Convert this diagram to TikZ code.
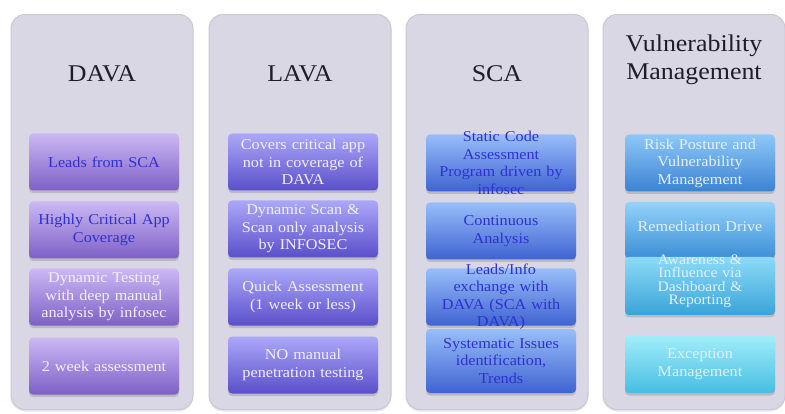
\documentclass[tikz,border=0pt]{standalone}
\usepackage{fontspec}
\setmainfont{Liberation Serif}[FakeStretch=1.08]
\usetikzlibrary{shadows}
\definecolor{panelfill}{HTML}{DAD7E5}
\definecolor{panelborder}{HTML}{C9C6D6}
\definecolor{titlecol}{HTML}{1E1E2A}
\definecolor{dtop}{HTML}{CBB8F4}
\definecolor{dbot}{HTML}{7D60C6}
\definecolor{ltop}{HTML}{ABA8F8}
\definecolor{lbot}{HTML}{5A4FCA}
\definecolor{stop}{HTML}{98BEF9}
\definecolor{sbot}{HTML}{3F63D2}
\definecolor{vtopa}{HTML}{8DC8F8}
\definecolor{vbota}{HTML}{3B82D2}
\definecolor{vtopb}{HTML}{94D3FA}
\definecolor{vbotb}{HTML}{3C8ED6}
\definecolor{vtopc}{HTML}{8CDAF8}
\definecolor{vbotc}{HTML}{3AA4D8}
\definecolor{vtopd}{HTML}{A2EEFA}
\definecolor{vbotd}{HTML}{47BDE2}
\definecolor{bluetxt}{HTML}{3030D2}
\definecolor{whtxt}{HTML}{F2EEFF}
\definecolor{vmtxt}{HTML}{E2F1FF}
\tikzset{
  panel/.style={draw=panelborder, line width=1pt, fill=panelfill, rounded corners=14pt,
    minimum width=182pt, minimum height=395pt, inner sep=0pt,
    drop shadow={opacity=0.18, shadow xshift=0pt, shadow yshift=-2pt}},
  ttl/.style={font=\fontsize{24}{28.5}\selectfont, text=titlecol, align=center, inner sep=0pt},
  item/.style={rounded corners=4pt, minimum width=150pt, minimum height=57pt, inner sep=0pt,
    drop shadow={opacity=0.35, shadow xshift=0pt, shadow yshift=-2.5pt}},
  dbox/.style={item, top color=dtop, bottom color=dbot},
  lbox/.style={item, top color=ltop, bottom color=lbot},
  sbox/.style={item, top color=stop, bottom color=sbot},
  itxt/.style={font=\fontsize{15}{17.5}\selectfont, align=center, text width=150pt, inner sep=0pt},
}
\begin{document}
\begin{tikzpicture}[x=1pt,y=-1pt]
\useasboundingbox (0,0) rectangle (785,414);
% panels
\node[panel] (p1) at (102,212) {};
\node[panel] (p2) at (300,212) {};
\node[panel] (p3) at (497,212) {};
\node[panel] (p4) at (694,212) {};
% titles
\node[ttl] (t1) at (102,74) {DAVA};
\node[ttl] (t2) at (300,74) {LAVA};
\node[ttl] (t3) at (497,74) {SCA};
\node[ttl] (t4) at (694,60) {Vulnerability\\Management};
% DAVA
\node[dbox] (d1) at (104,162) {};
\node[dbox] (d2) at (104,230) {};
\node[dbox] (d3) at (104,297) {};
\node[dbox] (d4) at (104,366) {};
\node[itxt, text=bluetxt] (d1t) at (d1) {Leads from SCA};
\node[itxt, text=bluetxt] (d2t) at (d2) {Highly Critical App\\Coverage};
\node[itxt, text=whtxt] (d3t) at (d3) {Dynamic Testing\\with deep manual\\analysis by infosec};
\node[itxt, text=whtxt] (d4t) at (d4) {2 week assessment};
% LAVA
\node[lbox] (l1) at (303,162) {};
\node[lbox] (l2) at (303,229) {};
\node[lbox] (l3) at (303,297) {};
\node[lbox] (l4) at (303,365) {};
\node[itxt, text=whtxt] (l1t) at (l1) {Covers critical app\\not in coverage of\\DAVA};
\node[itxt, text=whtxt] (l2t) at (l2) {Dynamic Scan \&\\Scan only analysis\\by INFOSEC};
\node[itxt, text=whtxt] (l3t) at (l3) {Quick Assessment\\(1 week or less)};
\node[itxt, text=whtxt] (l4t) at (l4) {NO manual\\penetration testing};
% SCA
\node[sbox] (s1) at (501,163) {};
\node[sbox] (s2) at (501,231) {};
\node[sbox] (s3) at (501,297) {};
\node[sbox, minimum height=64pt] (s4) at (501,361) {};
\node[itxt, text=bluetxt] (s1t) at (s1) {Static Code\\Assessment\\Program driven by\\infosec};
\node[itxt, text=bluetxt] (s2t) at (s2) {Continuous\\Analysis};
\node[itxt, text=bluetxt] (s3t) at (s3) {Leads/Info\\exchange with\\DAVA (SCA with\\DAVA)};
\node[itxt, text=bluetxt] (s4t) at (s4) {Systematic Issues\\identification,\\Trends};
% Vulnerability Management
\node[item, top color=vtopa, bottom color=vbota] (v1) at (700,163) {};
\node[item, top color=vtopb, bottom color=vbotb, minimum height=56pt] (v2) at (700,230) {};
\node[item, top color=vtopc, bottom color=vbotc, minimum height=58pt] (v3) at (700,286) {};
\node[item, top color=vtopd, bottom color=vbotd, minimum height=58pt] (v4) at (700,364) {};
\node[itxt, text=vmtxt] (v1t) at (v1) {Risk Posture and\\Vulnerability\\Management};
\node[itxt, text=vmtxt] (v2t) at (700,226) {Remediation Drive};
\node[itxt, text=vmtxt, font=\fontsize{14.5}{13.5}\selectfont] (v3t) at (700,281) {Awareness \&\\Influence via\\Dashboard \&\\Reporting};
\node[itxt, text=vmtxt] (v4t) at (v4) {Exception\\Management};
\end{tikzpicture}
\end{document}
